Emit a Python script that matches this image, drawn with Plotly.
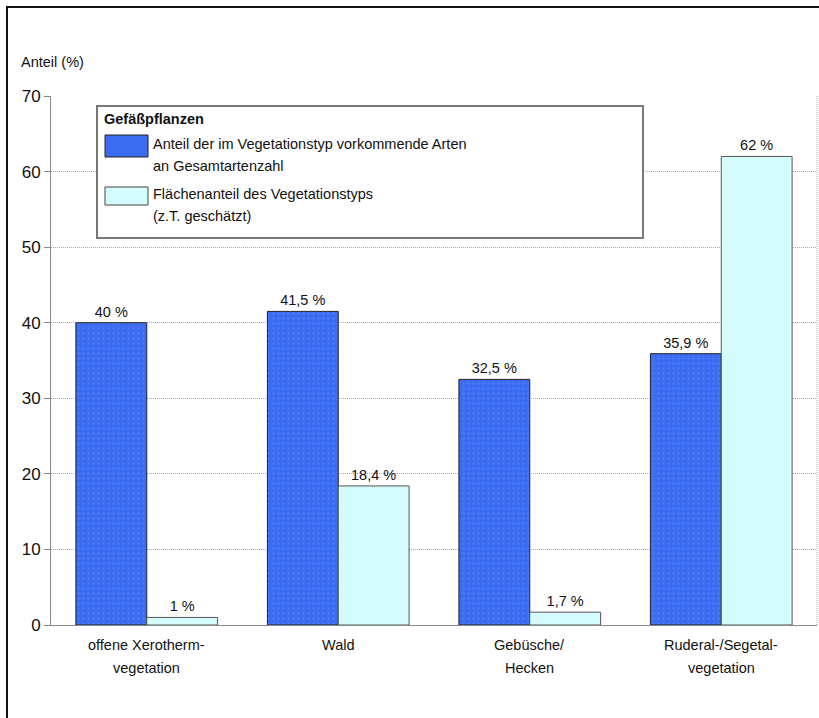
import plotly.graph_objects as go

categories = ["offene Xerotherm-vegetation", "Wald", "Gebüsche/Hecken", "Ruderal-/Segetal-vegetation"]
category_lines = [["offene Xerotherm-", "vegetation"], ["Wald"], ["Gebüsche/", "Hecken"], ["Ruderal-/Segetal-", "vegetation"]]
arten_anteil = [40, 41.5, 32.5, 35.9]
flaechen_anteil = [1, 18.4, 1.7, 62]
arten_labels = ["40 %", "41,5 %", "32,5 %", "35,9 %"]
flaechen_labels = ["1 %", "18,4 %", "1,7 %", "62 %"]
series_names = ["Anteil der im Vegetationstyp vorkommende Arten an Gesamtartenzahl",
                "Flächenanteil des Vegetationstyps (z.T. geschätzt)"]
legend_lines = [["Anteil der im Vegetationstyp vorkommende Arten", "an Gesamtartenzahl"],
                ["Flächenanteil des Vegetationstyps", "(z.T. geschätzt)"]]
legend_title = "Gefäßpflanzen"
y_ticks = [0, 10, 20, 30, 40, 50, 60, 70]

W, H = 819, 718
L, R, T, B = 51, 2, 96, 93
PW, PH = W - L - R, H - T - B

def px(x):
    return (x - L) / PW

def py(y):
    return (H - B - y) / PH

FONT = "Liberation Sans, Arial, sans-serif"
FS = 14.5
DARK = "#3b6cf2"
LIGHT = "#d4fcfd"
TXT = "#111111"

fig = go.Figure()
fig.add_trace(go.Bar(
    x=categories, y=arten_anteil, name=series_names[0],
    text=arten_labels, textposition="outside", cliponaxis=False,
    marker=dict(color=DARK, line=dict(color="#222222", width=1),
                pattern=dict(shape=".", fgcolor="#6b8ff5", bgcolor=DARK, size=5, solidity=0.15)),
    textfont=dict(size=FS, color=TXT, family=FONT),
))
fig.add_trace(go.Bar(
    x=categories, y=flaechen_anteil, name=series_names[1],
    text=flaechen_labels, textposition="outside", cliponaxis=False,
    marker=dict(color=LIGHT, line=dict(color="#555555", width=1)),
    textfont=dict(size=FS, color=TXT, family=FONT),
))

shapes = []
shapes.append(dict(type="rect", xref="paper", yref="paper",
                   x0=px(7), x1=px(830), y0=py(730), y1=py(7),
                   line=dict(color="#111111", width=2), layer="below"))
shapes.append(dict(type="line", xref="paper", yref="paper", x0=1, x1=1, y0=0, y1=1,
                   line=dict(color="#aaaaaa", width=1, dash="1px,1px")))
shapes.append(dict(type="rect", xref="paper", yref="paper",
                   x0=px(97), x1=px(643), y0=py(238), y1=py(106),
                   line=dict(color="#777777", width=2), fillcolor="white", layer="above"))
shapes.append(dict(type="rect", xref="paper", yref="paper",
                   x0=px(105), x1=px(148), y0=py(157), y1=py(135),
                   line=dict(color="#222222", width=1), fillcolor=DARK, layer="above"))
shapes.append(dict(type="rect", xref="paper", yref="paper",
                   x0=px(105), x1=px(148), y0=py(205), y1=py(187),
                   line=dict(color="#444444", width=1), fillcolor=LIGHT, layer="above"))

annotations = [
    dict(text="Anteil (%)", xref="paper", yref="paper", x=px(19), y=py(62),
         xanchor="left", yanchor="middle", showarrow=False, font=dict(size=FS, family=FONT, color=TXT)),
    dict(text="<b>" + legend_title + "</b>", xref="paper", yref="paper", x=px(102), y=py(119),
         xanchor="left", yanchor="middle", showarrow=False, font=dict(size=FS, family=FONT, color=TXT)),
]
legend_line_y = [[144, 166], [194, 216]]
for lines, ys in zip(legend_lines, legend_line_y):
    for line, yy in zip(lines, ys):
        annotations.append(dict(text=line, xref="paper", yref="paper", x=px(151), y=py(yy),
                                xanchor="left", yanchor="middle", showarrow=False,
                                font=dict(size=FS, family=FONT, color=TXT)))
cat_line_y = [645, 668]
for cat, lines in zip(categories, category_lines):
    for line, yy in zip(lines, cat_line_y):
        annotations.append(dict(text=line, xref="x", yref="paper", x=cat, y=py(yy),
                                xanchor="center", yanchor="middle", showarrow=False,
                                font=dict(size=FS, family=FONT, color=TXT)))

fig.update_layout(
    width=W, height=H,
    margin=dict(l=L, r=R, t=T, b=B),
    paper_bgcolor="white", plot_bgcolor="white",
    barmode="group", bargap=0.26, bargroupgap=0,
    showlegend=False,
    font=dict(family=FONT, color=TXT),
    shapes=shapes, annotations=annotations,
)
fig.update_xaxes(
    showline=True, linecolor="#888888", linewidth=1,
    ticks="", showticklabels=False, showgrid=False,
)
fig.update_yaxes(
    range=[0, 70], tickvals=y_ticks, showline=True, linecolor="#888888", linewidth=1,
    ticks="outside", ticklen=6, tickcolor="#888888", tickfont=dict(size=17),
    showgrid=True, gridcolor="#aaaaaa", griddash="1px,1px", gridwidth=1,
    zeroline=False,
)
fig.write_html("out.html")
